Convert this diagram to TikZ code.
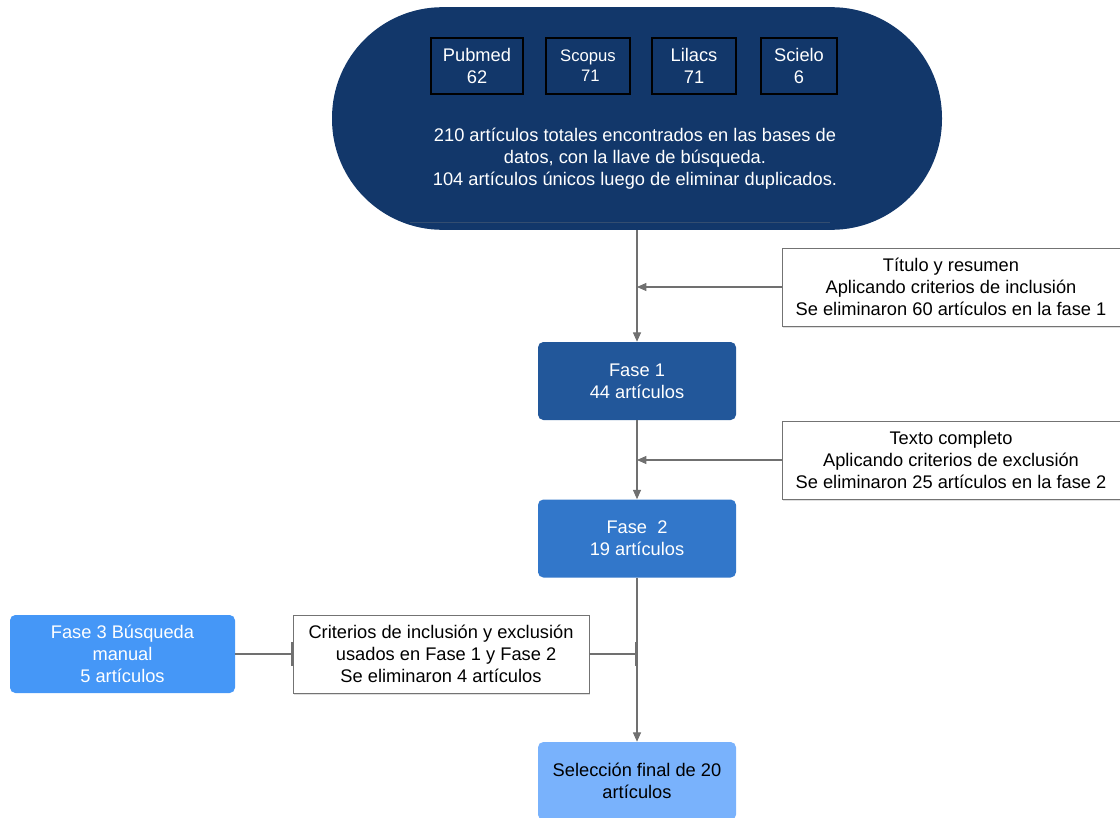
\documentclass[tikz,border=0pt]{standalone}
\usepackage{fontspec}
\setmainfont{Liberation Sans}
\usepackage{xcolor}
\usetikzlibrary{positioning, arrows.meta, shadows}

\definecolor{navy}{HTML}{12376A}
\definecolor{faseuno}{HTML}{22579A}
\definecolor{fasedos}{HTML}{3277CA}
\definecolor{fasetres}{HTML}{4597F7}
\definecolor{final}{HTML}{79B2FC}
\definecolor{linea}{HTML}{707070}

\begin{document}
\begin{tikzpicture}[
    x=0.75pt, y=-0.75pt,
    font=\fontsize{13.7}{16.5}\selectfont,
    stadium/.style={draw=none, fill=navy, rounded corners=83pt, minimum width=457.5pt, minimum height=167pt, inner sep=0pt},
    dbbox/.style={draw=black, line width=0.8pt, fill=navy, text=white, minimum height=42pt, inner sep=0pt, align=center},
    innerbox/.style={fill=navy, text=white, minimum width=315pt, minimum height=88.5pt, inner sep=0pt, align=center,
        drop shadow={opacity=0.3, shadow xshift=0pt, shadow yshift=-1pt}},
    fase/.style={rounded corners=4pt, text=white, minimum width=148.5pt, minimum height=58.5pt, inner sep=0pt, align=center},
    nota/.style={draw=black!55, fill=white, minimum width=253.5pt, minimum height=58.5pt, inner sep=0pt, align=center,
        drop shadow={opacity=0.25, shadow xshift=1pt, shadow yshift=-1.5pt}},
    flecha/.style={draw=linea, thick, -{Triangle[length=7pt, width=6pt]}},
    tope/.style={draw=linea, thick, -{Bar[width=18pt, line width=1.2pt]}}
]
\useasboundingbox (0,0) rectangle (1120,817);

% Bases de datos
\node[stadium] (busq) at (637,118.5) {};
\node[innerbox] (total) at (620,163) {};
\node[text=white, align=center] (totaltxt) at (635,159) {210 artículos totales encontrados en las bases de\\datos, con la llave de búsqueda.\\ 104 artículos únicos luego de eliminar duplicados.};
\foreach \nom/\num/\xx/\ww in {Pubmed/62/477/69, Lilacs/71/694/63, Scielo/6/799/57} {
    \node[dbbox, minimum width=\ww pt] (\nom) at (\xx,66) {\nom\\\num};
}
\node[dbbox, minimum width=63pt, font=\fontsize{12.5}{15}\selectfont] (Scopus) at (588,66) {Scopus\\\ 71};

% Fases
\node[fase, fill=faseuno] (fase1) at (637,381) {Fase 1\\44 artículos};
\node[fase, fill=fasedos] (fase2) at (637,538.5) {Fase\ \ 2\\19 artículos};
\node[fase, fill=fasetres, minimum width=168.75pt] (fase3) at (122.5,654) {Fase 3 Búsqueda\\manual\\5 artículos};
\node[fase, fill=final, text=black] (final) at (637,781) {Selección final de 20\\artículos};

% Criterios
\node[nota] (titulo) at (951,287) {Título y resumen\\Aplicando criterios de inclusión\\Se eliminaron 60 artículos en la fase 1};
\node[nota] (texto) at (951,460) {Texto completo\\Aplicando criterios de exclusión\\Se eliminaron 25 artículos en la fase 2};
\node[nota, minimum width=222pt] (crit) at (441,654) {Criterios de inclusión y exclusión\\\ \ usados en Fase 1 y Fase 2\\Se eliminaron 4 artículos};

\coordinate (j1) at (fase1.north |- titulo.west);
\coordinate (j2) at (fase2.north |- texto.west);
\coordinate (j3) at (final.north |- crit.east);

% Conectores
\draw[flecha] (busq.south) -- (fase1.north);
\draw[flecha] (titulo.west) -- (j1);
\draw[flecha] (fase1.south) -- (fase2.north);
\draw[flecha] (texto.west) -- (j2);
\draw[flecha] (fase2.south) -- (final.north);
\draw[tope] (fase3.east) -- (crit.west);
\draw[tope] (crit.east) -- (j3);

\end{tikzpicture}
\end{document}
